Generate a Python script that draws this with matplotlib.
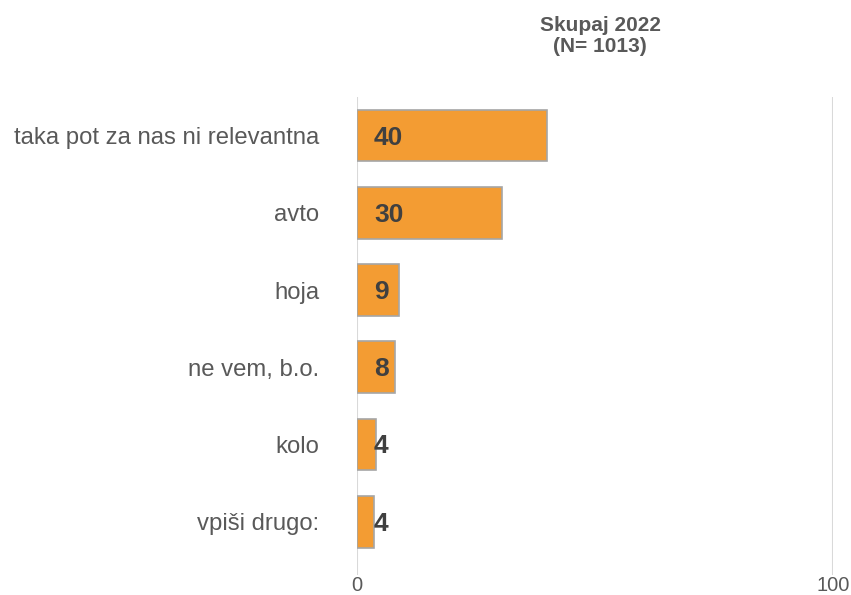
import matplotlib
matplotlib.use("Agg")
import matplotlib.pyplot as plt

categories = ["taka pot za nas ni relevantna", "avto", "hoja", "ne vem, b.o.", "kolo", "vpiši drugo:"]
values = [40, 30.4, 8.9, 8, 4, 3.6]
labels = ["40", "30", "9", "8", "4", "4"]
title = "Skupaj 2022\n(N= 1013)"

plt.rcParams['font.family'] = ['Liberation Sans', 'DejaVu Sans']

fig = plt.figure(figsize=(8.51, 5.95), dpi=100)
ax = fig.add_axes([357/851, 1-575/595, (833-357)/851, (575-97)/595])

y = list(range(len(categories)))
ax.barh(y, values, height=0.67, color="#F39C33", edgecolor="#A6A6A6", linewidth=1.2, zorder=3)
for yi, lab in zip(y, labels):
    ax.annotate(lab, (0, yi), xytext=(17, -2), textcoords="offset pixels",
                ha="left", va="center", fontsize=19, fontweight="bold", color="#404040", zorder=4)

ax.set_xlim(0, 100)
ax.set_ylim(5.69, -0.5)
ax.set_xticks([0, 100])
ax.set_xticklabels(["0", "100"], fontsize=14.5, color="#595959")
ax.set_yticks(y)
ax.set_yticklabels(categories, fontsize=17.2, color="#595959")
ax.tick_params(axis="y", length=0, pad=27)
ax.tick_params(axis="x", length=0, pad=1)
for s in ax.spines.values():
    s.set_visible(False)
ax.grid(axis="x", color="#D9D9D9", linewidth=1.5, zorder=0)
fig.text(600/851, 1-36/595, title, ha="center", va="center", fontsize=15,
         fontweight="bold", color="#595959", linespacing=1.15)

fig.savefig("out.png", dpi=100)
